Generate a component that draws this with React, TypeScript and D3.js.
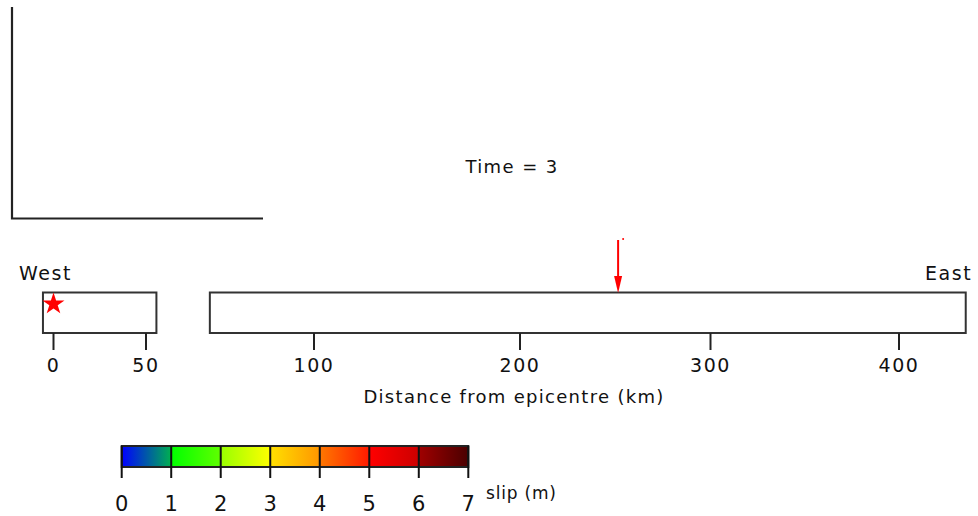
import React from "react";
import * as d3 from "d3";

// Along-strike distance ticks (km) and where they sit on the page
const distTicks = [0, 50, 100, 200, 300, 400];
const distPixels = [53.5, 146, 314, 520, 710.5, 899];

// Fault segments as [start, end] in km
const segments: [number, number][] = [
  [-5.7, 53.1],
  [69, 435.4],
];

const epicentreKm = 0;
const ruptureFrontKm = 251.5;
const timeStep = 3;

// Slip colour scale (m): each unit interval carries its own gradient
const slipTicks = [0, 1, 2, 3, 4, 5, 6, 7];
const slipStops: [string, string][] = [
  ["#0000ff", "#00b050"],
  ["#00ff00", "#60ff00"],
  ["#98ff00", "#ffff00"],
  ["#ffe000", "#ff9600"],
  ["#ff7800", "#ff1a00"],
  ["#ff0000", "#cc0000"],
  ["#a00000", "#4a0000"],
];

const FONT = "'DejaVu Sans', sans-serif";

export default function App() {
  const W = 978;
  const H = 516;
  const x = d3.scaleLinear().domain(distTicks).range(distPixels);
  const c = d3.scaleLinear().domain([0, 7]).range([121.7, 468.3]);

  const boxTop = 292.5;
  const boxBottom = 333;
  const barTop = 446;
  const barBottom = 467;

  const star = d3.symbol().type(d3.symbolStar).size(150)();
  const fx = x(ruptureFrontKm);

  return (
    <svg
      width={W}
      height={H}
      style={{ position: "absolute", left: 0, top: 0, background: "#fff" }}
      fontFamily={FONT}
    >
      <defs>
        {slipStops.map((s, i) => (
          <linearGradient key={i} id={`slip-${i}`} x1="0" x2="1" y1="0" y2="0">
            <stop offset="0" stopColor={s[0]} />
            <stop offset="1" stopColor={s[1]} />
          </linearGradient>
        ))}
      </defs>

      {/* Empty time-series frame */}
      <path d="M12,7 V218.5 H263" fill="none" stroke="#222" strokeWidth={2.2} />

      <text x={512} y={173} textAnchor="middle" fontSize={18} letterSpacing={1.4} fill="#111">
        {`Time = ${timeStep}`}
      </text>

      {/* Fault segments */}
      {segments.map(([a, b], i) => (
        <rect
          key={i}
          x={x(a)}
          y={boxTop}
          width={x(b) - x(a)}
          height={boxBottom - boxTop}
          fill="#fff"
          stroke="#333"
          strokeWidth={2}
        />
      ))}

      <text x={19} y={280} fontSize={19} letterSpacing={1.6} fill="#111">West</text>
      <text x={925} y={280} fontSize={19} letterSpacing={1.6} fill="#111">East</text>

      {/* Distance axis */}
      {distTicks.map((t) => (
        <g key={t} transform={`translate(${x(t)},0)`}>
          <line y1={boxBottom} y2={350} stroke="#222" strokeWidth={2} />
          <text y={372} textAnchor="middle" fontSize={19} letterSpacing={1.6} fill="#111">
            {t}
          </text>
        </g>
      ))}
      <text x={514} y={403} textAnchor="middle" fontSize={18} letterSpacing={1.3} fill="#111">
        Distance from epicentre (km)
      </text>

      {/* Epicentre */}
      <path d={star ?? ""} transform={`translate(${x(epicentreKm)},304)`} fill="#ff0000" />

      {/* Rupture front */}
      <line x1={fx} x2={fx} y1={240} y2={280} stroke="#ff0000" strokeWidth={2} />
      <path d={`M${fx - 4},276 L${fx + 4},276 L${fx},293 Z`} fill="#ff0000" />
      <circle cx={fx + 5} cy={239} r={1} fill="#ff0000" />

      {/* Slip colour bar */}
      {slipStops.map((_, i) => (
        <rect
          key={i}
          x={c(i)}
          y={barTop}
          width={c(i + 1) - c(i)}
          height={barBottom - barTop}
          fill={`url(#slip-${i})`}
        />
      ))}
      <rect
        x={c(0)}
        y={barTop}
        width={c(7) - c(0)}
        height={barBottom - barTop}
        fill="none"
        stroke="#222"
        strokeWidth={2}
      />
      {slipTicks.map((t) => (
        <g key={t} transform={`translate(${c(t)},0)`}>
          <line y1={barTop} y2={478} stroke="#111" strokeWidth={2} />
          <text y={511} textAnchor="middle" fontSize={21} fill="#111">
            {t}
          </text>
        </g>
      ))}
      <text x={486} y={499} fontSize={17} letterSpacing={0.8} fill="#111">slip (m)</text>
    </svg>
  );
}
